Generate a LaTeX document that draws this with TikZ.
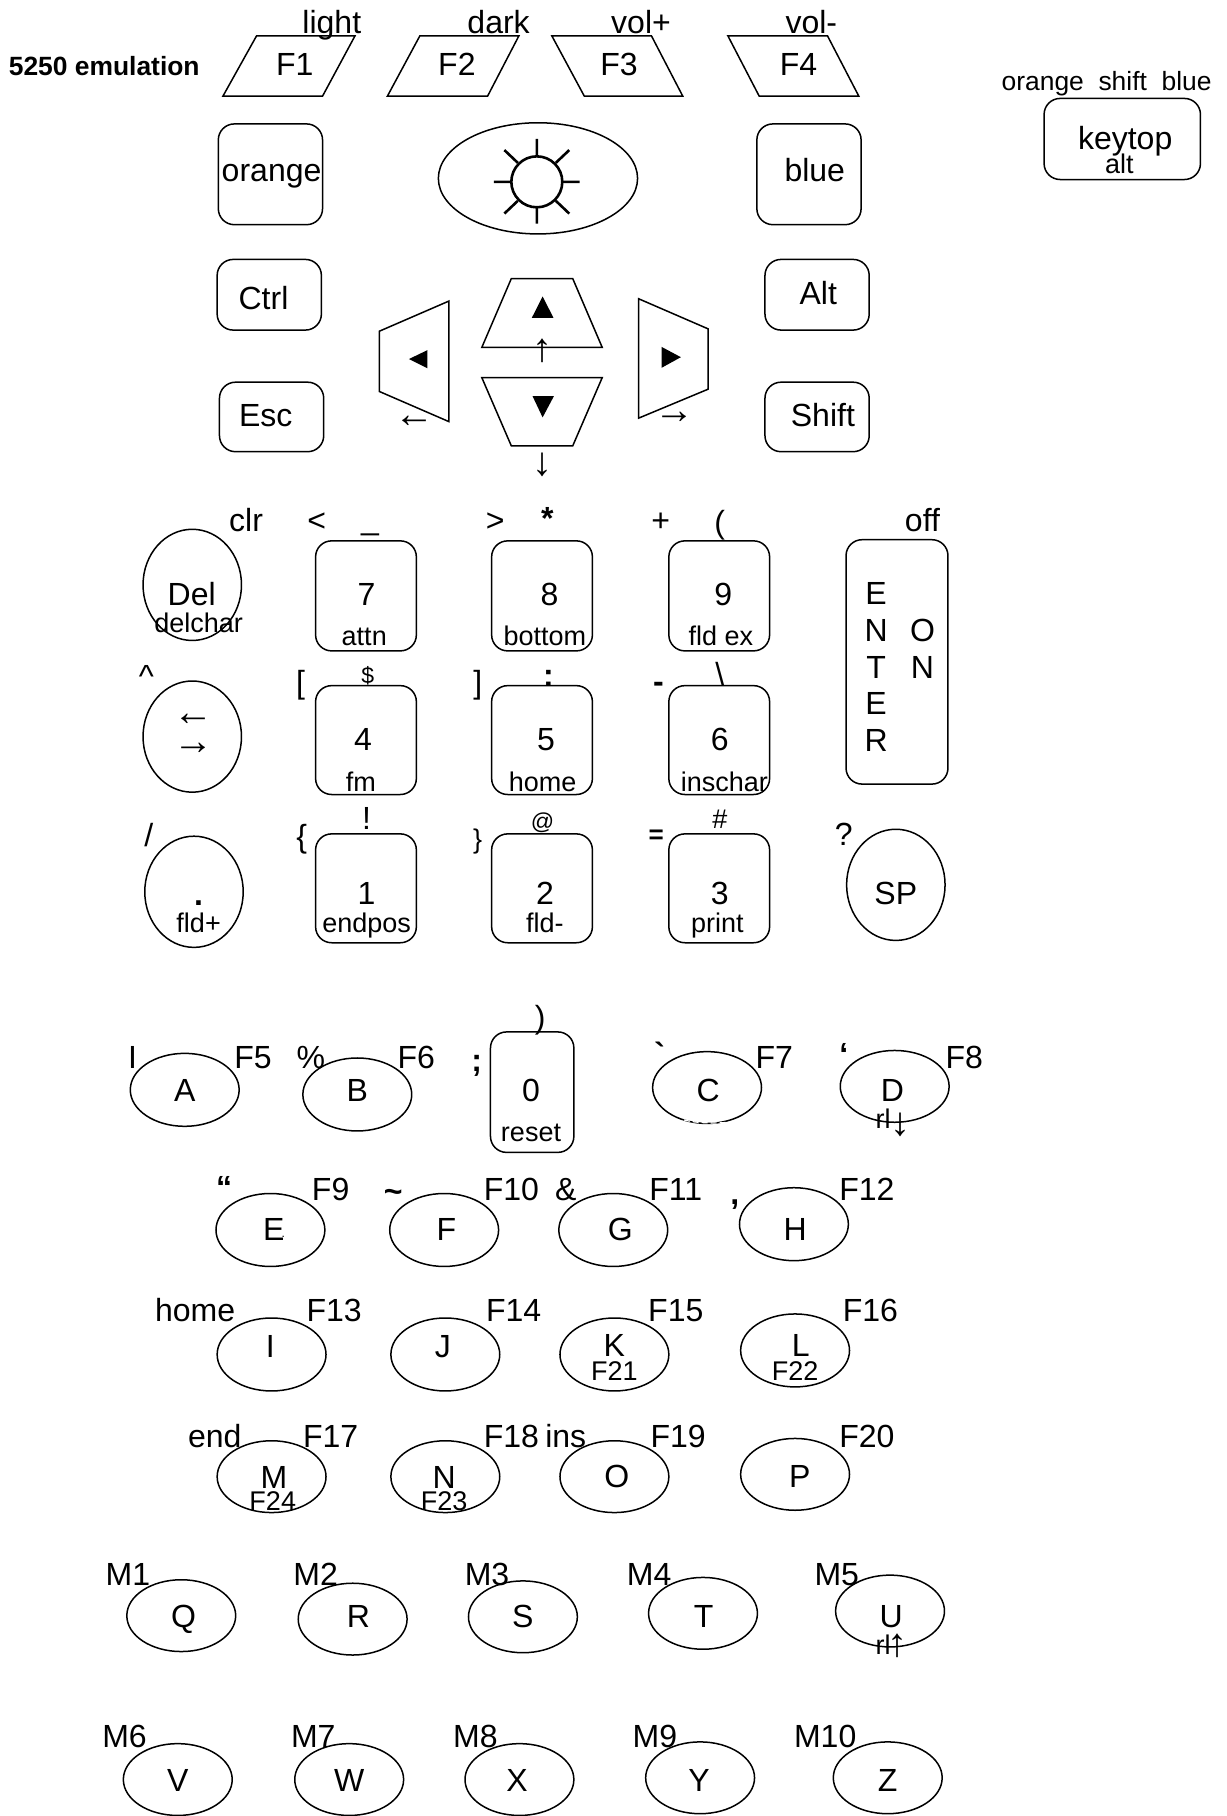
\documentclass[tikz,border=0pt]{standalone}
\usepackage{fontspec}
\setmainfont{Liberation Sans}
\newfontfamily\serifarrow{Liberation Serif}
\newfontfamily\plainsans{Liberation Sans}
\usetikzlibrary{shapes.geometric}
\def\uu{0.5788pt}
\tikzset{
  keyline/.style={line width=0.75pt,draw=black},
  lab/.style={inner sep=0pt,outer sep=0pt,anchor=center},
  big/.style={lab,font=\fontsize{16}{16}\selectfont,text height=11.5pt,text depth=0pt},
  sml/.style={lab,font=\fontsize{13.5}{13.5}\selectfont,text height=9.7pt,text depth=0pt},
  tin/.style={lab,font=\fontsize{11.5}{11.5}\selectfont,text height=8.3pt,text depth=0pt},
  mid/.style={lab,font=\fontsize{13.2}{13.2}\selectfont,text height=9.5pt,text depth=0pt},
  bld/.style={lab,font=\fontsize{16}{16}\selectfont\bfseries,text height=11.5pt,text depth=0pt},
  bls/.style={lab,font=\fontsize{13}{13}\selectfont\bfseries,text height=9.4pt,text depth=0pt},
  ttl/.style={lab,font=\fontsize{13.2}{13.2}\selectfont\bfseries,text height=9.5pt,text depth=0pt},
  arw/.style={lab,font=\fontsize{20}{20}\selectfont\serifarrow,text height=14.4pt,text depth=0pt},
  oval/.style={ellipse,keyline,inner sep=0pt,outer sep=0pt},
  keybox/.style={rectangle,rounded corners=8pt,keyline,inner sep=0pt,outer sep=0pt},
  shapeline/.style={keyline,line join=miter},
  sunline/.style={line width=1.3pt},
}
% name, cx, cy, rx, ry
\newcommand\ov[5]{\node[oval,minimum width=2*#4*\uu,minimum height=2*#5*\uu] (#1) at (#2,#3) {};}
% name, x1, y1, x2, y2
\newcommand\kb[5]{\node[keybox,minimum width=(#4-#2)*\uu,minimum height=(#5-#3)*\uu] (#1) at ({(#2+#4)/2},{(#3+#5)/2}) {};}
% style, name, x, y, text
\newcommand\lb[5]{\node[#1] (#2) at (#3,#4) {#5};}
\begin{document}
\begin{tikzpicture}[x=0.5788pt,y=-0.5788pt]
\useasboundingbox (-0.5,0) rectangle (1058.5,1568);
% function keys
\draw[shapeline] (221,31)--(306,31)--(278,83)--(192,83)--cycle;
\draw[shapeline] (362,31)--(447.5,31)--(420.5,83)--(334,83)--cycle;
\draw[shapeline] (476,31)--(562,31)--(589,83)--(504,83)--cycle;
\draw[shapeline] (628,31)--(714,31)--(741,83)--(655,83)--cycle;
\lb{big}{tlight}{286}{19}{light}
\lb{big}{tdark}{430}{19}{dark}
\lb{big}{tvolp}{553}{19}{vol+}
\lb{big}{tvolm}{700}{19}{vol-}
\lb{ttl}{ttitle}{89.5}{57}{5250 emulation}
\lb{big}{tf1}{254}{55}{F1}
\lb{big}{tf2}{394}{55}{F2}
\lb{big}{tf3}{534}{55}{F3}
\lb{big}{tf4}{689}{55}{F4}
% legend
\kb{klegend}{901}{85}{1036}{155}
\lb{mid}{torange}{955}{70}{orange\ \ shift\ \ blue}
\lb{big}{tkeytop}{971}{119}{keytop}
\lb{sml}{talt}{966}{141}{alt}
% modifiers
\kb{korange}{188}{107}{278}{194}
\kb{kblue}{653}{107}{743}{194}
\kb{kctrl}{187}{224}{277}{285}
\kb{kalt}{660}{224}{750}{285}
\kb{kesc}{189}{330}{279}{390}
\kb{kshift}{660}{330}{750}{390}
\lb{big}{lorange}{234}{147}{orange}
\lb{big}{lblue}{703}{147}{blue}
\lb{big}{lctrl}{227}{257}{Ctrl}
\lb{big}{lalt}{706}{253}{Alt}
\lb{big}{lesc}{229}{358}{Esc}
\lb{big}{lshift}{710}{358}{Shift}
% backlight
\ov{ksun}{464}{154}{86}{48}
\draw[sunline] (463,157) circle (22);
\draw[sunline] (463,120)--(463,135) (463,179)--(463,193) (426,157)--(441,157) (485,157)--(500,157)
 (435,129.6)--(446.6,140.6) (491,129.6)--(479.4,140.6) (435,184.4)--(446.6,173.4) (491,184.4)--(479.4,173.4);
% cursor keys
\draw[shapeline] (441,240.5)--(494,240.5)--(519.5,300)--(415.5,300)--cycle;
\draw[shapeline] (415.5,326)--(519.5,326)--(494,385)--(441,385)--cycle;
\draw[shapeline] (387,260)--(327,286)--(327,338)--(387,364)--cycle;
\draw[shapeline] (551,258)--(611,284)--(611,336)--(551,361)--cycle;
\fill (468,256)--(477.4,274.4)--(458.7,274.4)--cycle;
\fill (459.3,342)--(477.8,342)--(468,360.4)--cycle;
\fill (352.6,310)--(368.6,302.3)--(368.6,318)--cycle;
\fill (570.7,299.5)--(587.4,308.4)--(570.7,317.6)--cycle;
\lb{arw}{aup}{468}{300}{↑}
\lb{arw}{adown}{468}{398}{↓}
\lb{arw}{aleft}{357.5}{357}{←}
\lb{arw}{aright}{582}{353}{→}
% numeric block
\ov{kdel}{165.5}{505}{42.5}{48}
\ov{klr}{165.5}{636}{42.5}{48}
\ov{kdot}{167}{770}{42.5}{48}
\ov{ksp}{773}{764}{42.5}{48}
\kb{k7}{272}{467}{359}{562}
\kb{k8}{424}{467}{511}{562}
\kb{k9}{577}{467}{664}{562}
\kb{k4}{272}{592}{359}{686}
\kb{k5}{424}{592}{511}{686}
\kb{k6}{577}{592}{664}{686}
\kb{k1}{272}{720}{359}{814}
\kb{k2}{424}{720}{511}{814}
\kb{k3}{577}{720}{664}{814}
\kb{kenter}{730}{466}{818}{677}
\lb{big}{ldel}{165}{513}{Del}
\lb{sml}{ldelchar}{171}{538}{delchar}
\lb{big}{lclr}{212}{449}{clr}
\lb{big}{llt}{273}{449}{<}
\lb{big}{lus}{319}{447}{\_}
\lb{big}{lgt}{427}{449}{>}
\lb{bld}{last}{472}{447}{*}
\lb{big}{lplus}{570}{449}{+}
\lb{big}{lopen}{621}{451}{(}
\lb{big}{loff}{796}{449}{off}
\lb{big}{l7}{316}{513}{7}
\lb{sml}{lattn}{314}{549}{attn}
\lb{big}{l8}{474}{513}{8}
\lb{sml}{lbottom}{470}{549}{bottom}
\lb{big}{l9}{624}{513}{9}
\lb{sml}{lfldex}{622}{549}{fld ex}
\lb{big}{le1}{756}{512}{E}
\lb{big}{ln1}{756}{544}{N}
\lb{big}{lt1}{756}{576}{T}
\lb{big}{le2}{756}{607}{E}
\lb{big}{lr1}{756}{639}{R}
\lb{big}{lo2}{796}{544}{O}
\lb{big}{ln2}{796}{576}{N}
\lb{big}{lcaret}{126}{584}{\textasciicircum}
\lb{arw}{ll}{167}{614}{←}
\lb{arw}{lr}{167}{639}{→}
\lb{big}{lob}{259}{589}{[}
\lb{tin}{ldollar}{317}{583}{\$}
\lb{big}{lcb}{412}{589}{]}
\lb{bld}{lcolon}{473}{583}{:}
\lb{bld}{lminus}{568}{588}{-}
\lb{big}{lbs}{621}{582}{\textbackslash}
\lb{big}{l4}{313}{638}{4}
\lb{sml}{lfm}{311}{675}{fm}
\lb{big}{l5}{471}{638}{5}
\lb{sml}{lhome}{468}{675}{home}
\lb{big}{l6}{621}{638}{6}
\lb{sml}{linschar}{625}{675}{inschar}
\lb{big}{lslash}{128}{721}{/}
\lb{bld}{ldot}{171}{772}{.}
\lb{sml}{lfldp}{171}{797}{fld+}
\lb{big}{lob2}{260}{722}{\{}
\lb{big}{lexcl}{316}{706}{!}
\lb{sml}{lcb2}{412}{724}{\}}
\lb{tin}{lat}{468}{709}{@}
\lb{bls}{leq}{566}{720}{=}
\lb{sml}{lhash}{621}{707}{\#}
\lb{big}{lq}{728}{720}{?}
\lb{big}{lsp}{773}{771}{SP}
\lb{big}{l1}{316}{771}{1}
\lb{sml}{lendpos}{316}{797}{endpos}
\lb{big}{l2}{470}{771}{2}
\lb{sml}{lfldm}{470}{797}{fld-}
\lb{big}{l3}{621}{771}{3}
\lb{sml}{lprint}{619}{797}{print}
% alpha rows
\ov{ka}{159}{941}{47}{31.5}
\ov{kb}{308}{945}{47}{31.5}
\kb{k0}{423}{891}{495}{995}
\ov{kc}{610}{939}{47}{31}
\draw[white,line width=0.6pt,dash pattern=on 3pt off 1.5pt] (590,967) .. controls (603,970.5) and (628,970.5) .. (645,966.5);
\ov{kd}{772}{938}{47}{31}
\ov{ke}{233}{1062}{47}{31.5}
\ov{kf}{383}{1062}{47}{31.5}
\ov{kg}{529}{1062}{47}{31.5}
\ov{kh}{685}{1057}{47}{31.5}
\ov{ki}{234}{1169.5}{47}{31.5}
\ov{kj}{384}{1169.5}{47}{31.5}
\ov{kk}{530}{1169.5}{47}{31.5}
\ov{kl}{686}{1166}{47}{31.5}
\ov{km}{234}{1275}{47}{31}
\ov{kn}{384}{1275}{47}{31}
\ov{ko}{530}{1275}{47}{31}
\ov{kp}{686}{1273}{47}{31}
\ov{kq}{156}{1395}{47}{31}
\ov{kr}{304}{1398}{47}{31}
\ov{ks}{451}{1396}{47}{31}
\ov{kt}{606.5}{1393}{47}{31}
\ov{ku}{768}{1391}{47}{31}
\ov{kv}{153}{1536.5}{47}{31}
\ov{kw}{301}{1536.5}{47}{31}
\ov{kx}{448}{1536.5}{47}{31}
\ov{ky}{604}{1535}{47}{31}
\ov{kz}{766}{1535}{47}{31}
\lb{big}{ti}{114}{913}{I}
\lb{big}{ta}{159}{941}{A}
\lb{big}{tf5}{218}{913}{F5}
\lb{big}{tpct}{268}{913}{\%}
\lb{big}{tb}{308}{941}{B}
\lb{big}{tf6}{359}{913}{F6}
\lb{bld}{tsemi}{411}{915}{;}
\lb{big}{tclose}{466}{878}{)}
\lb{big}{t0}{458}{941}{0}
\lb{sml}{treset}{458}{977}{reset}
\node[bld,font=\fontsize{16}{16}\selectfont\plainsans\bfseries] (tgrave) at (569,910) {`};
\lb{big}{tc}{611}{941}{C}
\lb{big}{tf7}{668}{913}{F7}
\lb{bld}{tquote}{728}{910}{‘}
\lb{big}{td}{770}{941}{D}
\lb{big}{tf8}{832}{913}{F8}
\lb{sml}{trld}{762}{966}{rl}
\lb{arw}{ardown}{777}{968}{↓}
\lb{bld}{tdq}{193}{1025}{“}
\lb{big}{te}{236}{1061}{E}
\node[lab,font=\fontsize{6}{6}\selectfont] (tedot) at (244,1068) {.};
\lb{big}{tf9}{285}{1027}{F9}
\lb{bld}{ttilde}{339}{1028}{\textasciitilde}
\lb{big}{tff}{385}{1061}{F}
\lb{big}{tf10}{441}{1027}{F10}
\lb{big}{tamp}{488}{1027}{\&}
\lb{big}{tg}{535}{1061}{G}
\lb{big}{tf11}{583}{1027}{F11}
\lb{bld}{tcomma}{634}{1030}{,}
\lb{big}{th}{686}{1061}{H}
\lb{big}{tf12}{748}{1027}{F12}
\lb{big}{thm}{168}{1131}{home}
\lb{big}{tii}{233}{1162}{I}
\lb{big}{tf13}{288}{1131}{F13}
\lb{big}{tj}{382}{1162}{J}
\lb{big}{tf14}{443}{1131}{F14}
\lb{big}{tk}{530}{1161}{K}
\lb{sml}{tf21}{530}{1184}{F21}
\lb{big}{tf15}{583}{1131}{F15}
\lb{big}{tl}{691}{1161}{L}
\lb{sml}{tf22}{686}{1184}{F22}
\lb{big}{tf16}{751}{1131}{F16}
\lb{big}{tend}{185}{1240}{end}
\lb{big}{tm}{236}{1275}{M}
\lb{sml}{tf24}{235}{1296}{F24}
\lb{big}{tf17}{285}{1240}{F17}
\lb{big}{tn}{383}{1275}{N}
\lb{sml}{tf23}{383}{1296}{F23}
\lb{big}{tf18}{441}{1240}{F18}
\lb{big}{tins}{488}{1240}{ins}
\lb{big}{to}{532}{1274}{O}
\lb{big}{tf19}{585}{1240}{F19}
\lb{big}{tp}{690}{1274}{P}
\lb{big}{tf20}{748}{1240}{F20}
\lb{big}{tm1}{110}{1359}{M1}
\lb{big}{tq}{158}{1395}{Q}
\lb{big}{tm2}{272}{1359}{M2}
\lb{big}{tr}{309}{1395}{R}
\lb{big}{tm3}{420}{1359}{M3}
\lb{big}{ts}{451}{1395}{S}
\lb{big}{tm4}{560}{1359}{M4}
\lb{big}{tt}{607}{1395}{T}
\lb{big}{tm5}{722}{1359}{M5}
\lb{big}{tu}{769}{1395}{U}
\lb{sml}{trlu}{762}{1420}{rl}
\lb{arw}{arup}{774}{1418}{↑}
\lb{big}{tm6}{107}{1499}{M6}
\lb{big}{tv}{153}{1537}{V}
\lb{big}{tm7}{270}{1499}{M7}
\lb{big}{tw}{301}{1537}{W}
\lb{big}{tm8}{410}{1499}{M8}
\lb{big}{tx}{446}{1537}{X}
\lb{big}{tm9}{565}{1499}{M9}
\lb{big}{ty}{603}{1537}{Y}
\lb{big}{tm10}{712}{1499}{M10}
\lb{big}{tz}{766}{1537}{Z}
\end{tikzpicture}
\end{document}
